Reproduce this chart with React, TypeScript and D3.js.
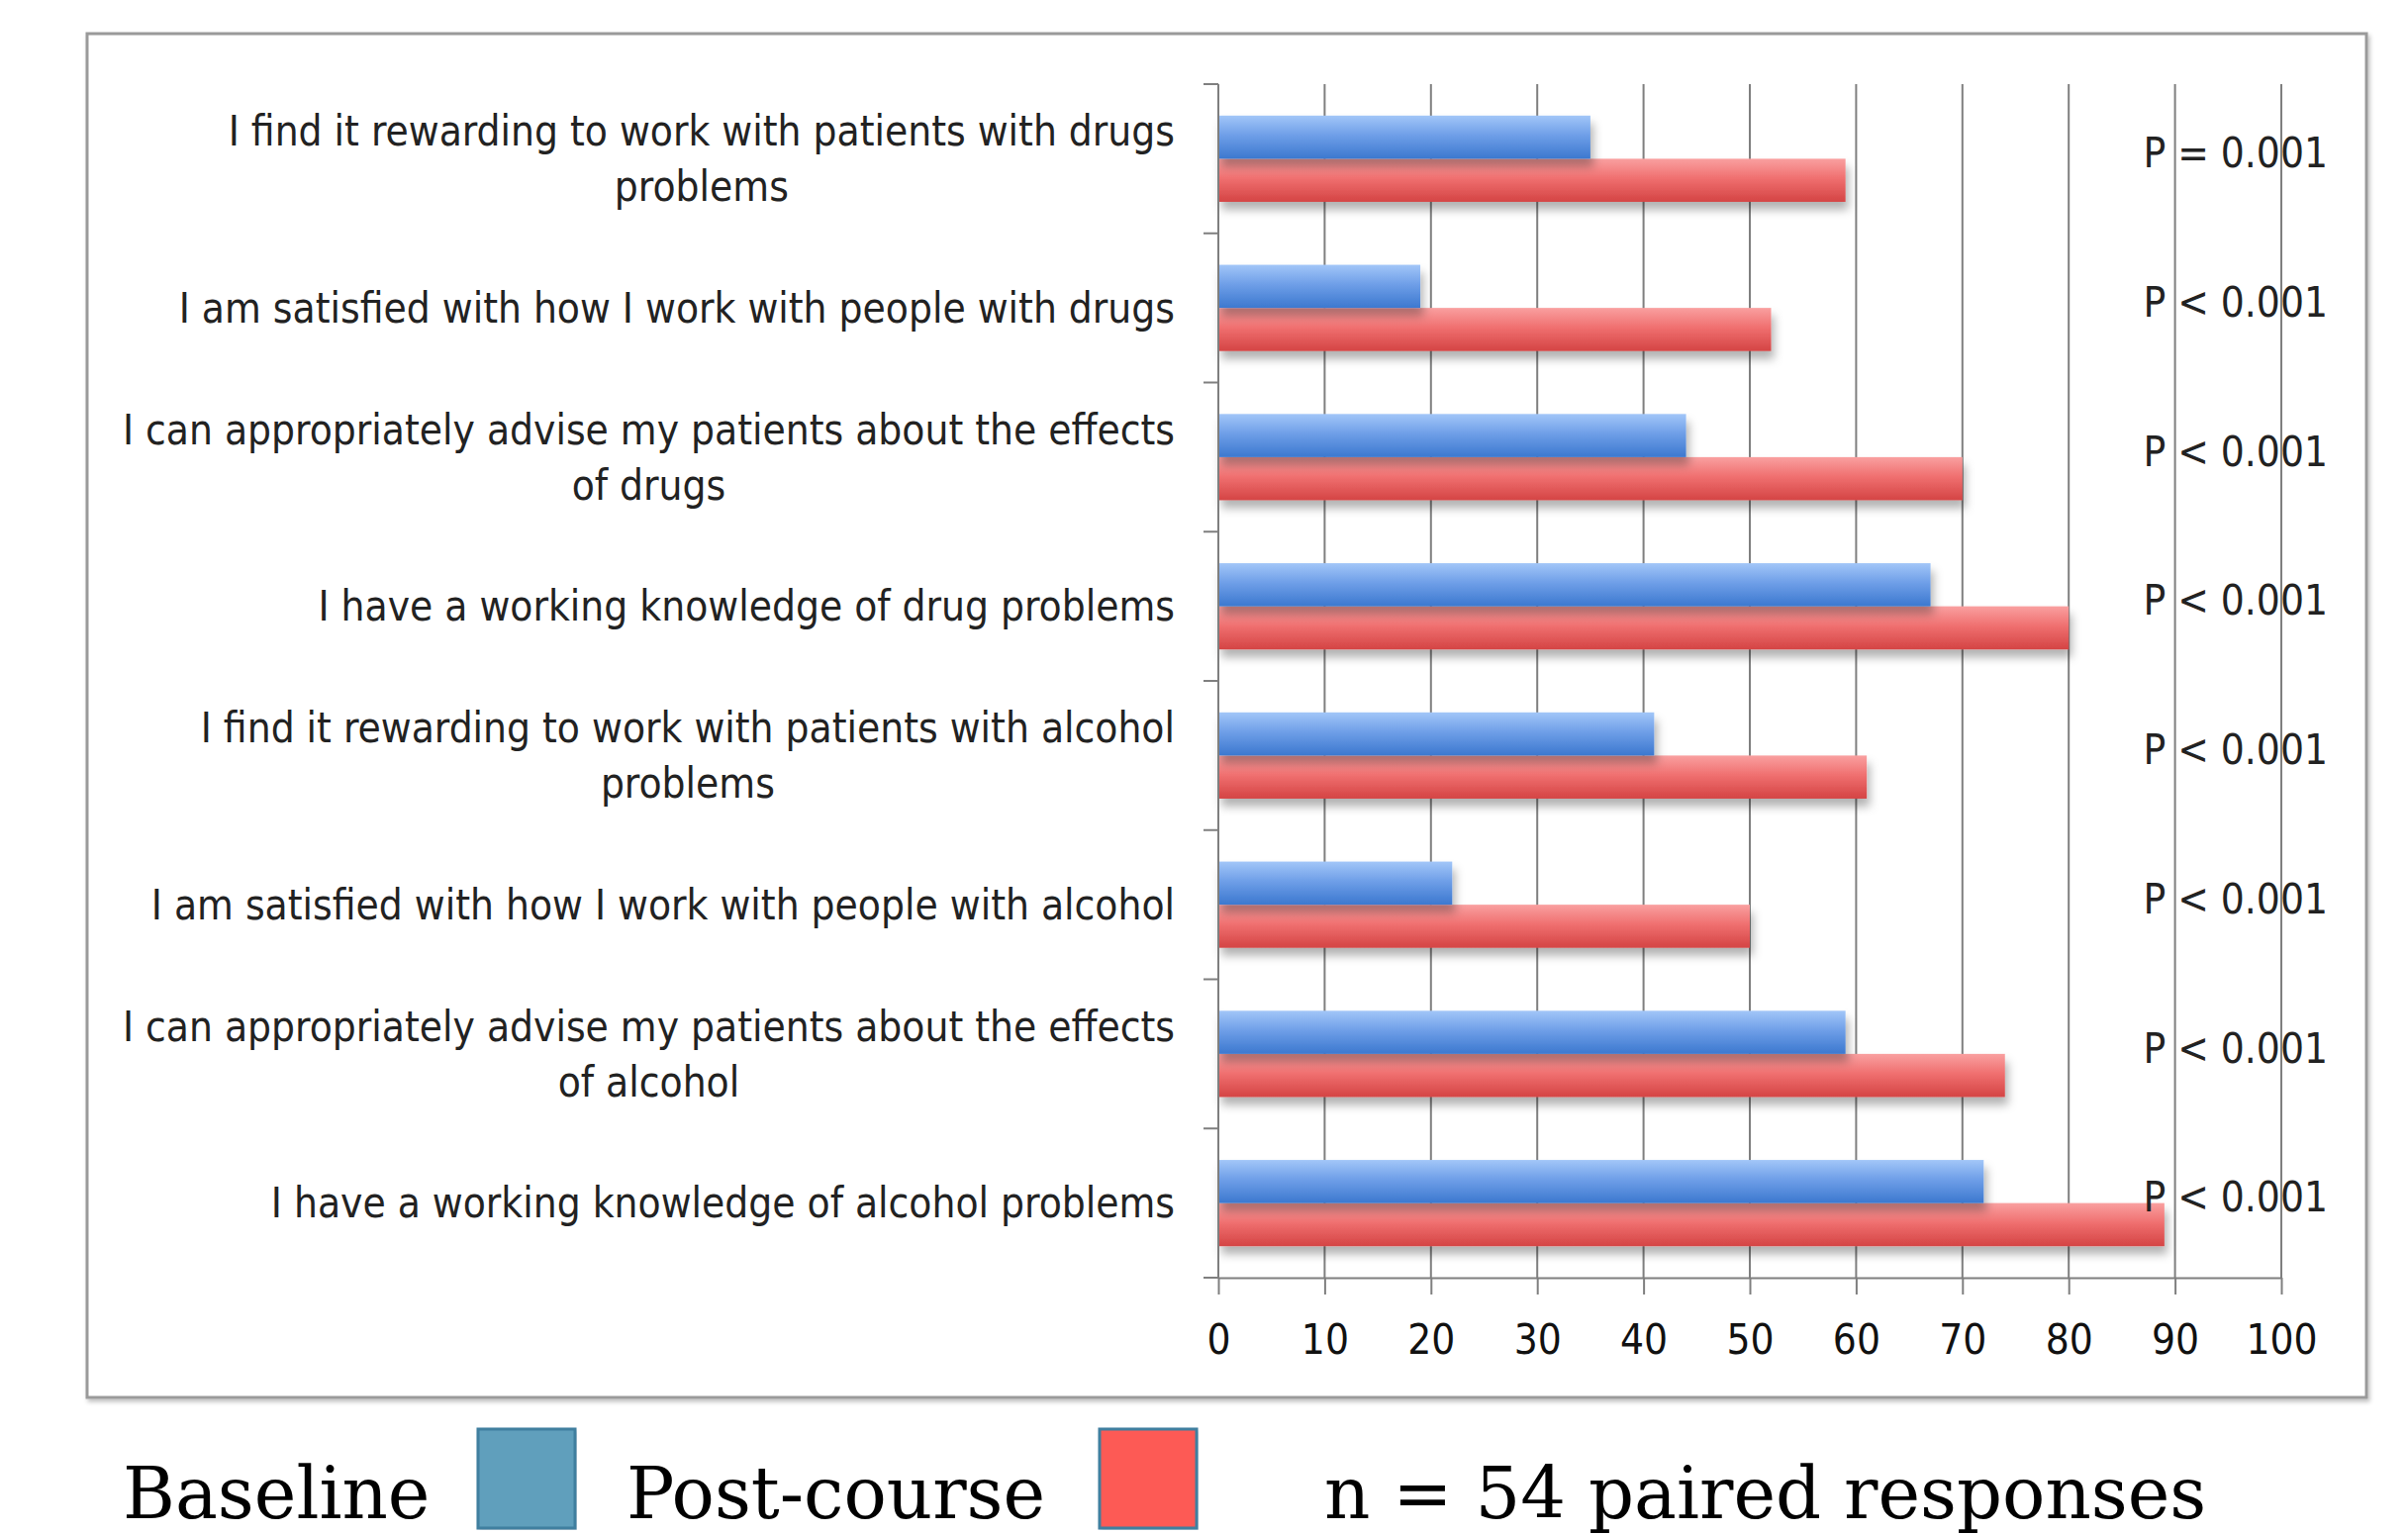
import React, { useEffect, useRef } from 'react';
import * as d3 from 'd3';

// category labels, top to bottom, already split into the lines used on the chart
const categories: string[][] = [
  ['I find it rewarding to work with patients with drugs', 'problems'],
  ['I am satisfied with how I work with people with drugs'],
  ['I can appropriately advise my patients about the effects', 'of drugs'],
  ['I have a working knowledge of drug problems'],
  ['I find it rewarding to work with patients with alcohol', 'problems'],
  ['I am satisfied with how I work with people with alcohol'],
  ['I can appropriately advise my patients about the effects', 'of alcohol'],
  ['I have a working knowledge of alcohol problems'],
];

const baseline = [35, 19, 44, 67, 41, 22, 59, 72];
const postCourse = [59, 52, 70, 80, 61, 50, 74, 89];
const pValues = ['P = 0.001', 'P < 0.001', 'P < 0.001', 'P < 0.001', 'P < 0.001', 'P < 0.001', 'P < 0.001', 'P < 0.001'];
const xTicks = [0, 10, 20, 30, 40, 50, 60, 70, 80, 90, 100];

const W = 2433;
const H = 1550;
const labelFont = '"Liberation Sans Narrow", "DejaVu Sans Condensed", Roboto, sans-serif';
const legendFont = '"DejaVu Serif", "Liberation Serif", serif';

const App = () => {
  const svgRef = useRef<SVGSVGElement>(null);

  useEffect(() => {
    const svg = d3.select(svgRef.current);
    svg.selectAll('*').remove();

    const plot = { left: 1231, right: 2305, top: 85, bottom: 1291 };

    const defs = svg.append('defs');
    const blueGrad = defs.append('linearGradient').attr('id', 'gBlue').attr('x1', 0).attr('y1', 0).attr('x2', 0).attr('y2', 1);
    blueGrad.append('stop').attr('offset', '0%').attr('stop-color', '#a2c6f8');
    blueGrad.append('stop').attr('offset', '45%').attr('stop-color', '#6f9fe8');
    blueGrad.append('stop').attr('offset', '100%').attr('stop-color', '#3c78cf');
    const redGrad = defs.append('linearGradient').attr('id', 'gRed').attr('x1', 0).attr('y1', 0).attr('x2', 0).attr('y2', 1);
    redGrad.append('stop').attr('offset', '0%').attr('stop-color', '#f9a0a0');
    redGrad.append('stop').attr('offset', '45%').attr('stop-color', '#f07070');
    redGrad.append('stop').attr('offset', '100%').attr('stop-color', '#d44444');
    const shadow = defs.append('filter').attr('id', 'shadow').attr('x', '-5%').attr('y', '-20%').attr('width', '115%').attr('height', '160%');
    shadow.append('feDropShadow').attr('dx', 3).attr('dy', 8).attr('stdDeviation', 5).attr('flood-color', '#000').attr('flood-opacity', 0.3);
    const frameShadow = defs.append('filter').attr('id', 'fshadow').attr('x', '-2%').attr('y', '-2%').attr('width', '104%').attr('height', '104%');
    frameShadow.append('feDropShadow').attr('dx', 2).attr('dy', 3).attr('stdDeviation', 2).attr('flood-color', '#000').attr('flood-opacity', 0.25);

    svg.append('rect').attr('width', W).attr('height', H).attr('fill', '#fff');

    // outer frame
    svg.append('rect')
      .attr('x', 88).attr('y', 34).attr('width', 2303).attr('height', 1378)
      .attr('fill', '#fff').attr('stroke', '#9a9a9a').attr('stroke-width', 3)
      .attr('filter', 'url(#fshadow)');

    const x = d3.scaleLinear().domain([0, 100]).range([plot.left, plot.right]);
    const y = d3.scaleBand<number>()
      .domain(d3.range(categories.length))
      .range([plot.top, plot.bottom]);
    const inner = d3.scaleBand<string>()
      .domain(['base', 'post'])
      .range([0, y.bandwidth()])
      .paddingOuter(0.73);

    // vertical gridlines
    svg.append('g')
      .selectAll('line')
      .data(xTicks.slice(1))
      .join('line')
      .attr('x1', (d) => x(d)).attr('x2', (d) => x(d))
      .attr('y1', plot.top).attr('y2', plot.bottom)
      .attr('stroke', '#7f7f7f').attr('stroke-width', 2);

    // bars
    const groups = svg.append('g')
      .selectAll('g')
      .data(categories.map((c, i) => ({ i, base: baseline[i], post: postCourse[i] })))
      .join('g')
      .attr('transform', (d) => `translate(0,${y(d.i)})`);

    groups.append('rect')
      .attr('x', x(0))
      .attr('y', inner('post')!)
      .attr('width', (d) => x(d.post) - x(0))
      .attr('height', inner.bandwidth())
      .attr('fill', 'url(#gRed)')
      .attr('filter', 'url(#shadow)');

    groups.append('rect')
      .attr('x', x(0))
      .attr('y', inner('base')!)
      .attr('width', (d) => x(d.base) - x(0))
      .attr('height', inner.bandwidth())
      .attr('fill', 'url(#gBlue)')
      .attr('filter', 'url(#shadow)');

    // y axis line + category boundary ticks
    svg.append('line')
      .attr('x1', x(0)).attr('x2', x(0))
      .attr('y1', plot.top).attr('y2', plot.bottom)
      .attr('stroke', '#7f7f7f').attr('stroke-width', 2);
    svg.append('g')
      .selectAll('line')
      .data(d3.range(categories.length + 1))
      .join('line')
      .attr('x1', x(0) - 15).attr('x2', x(0))
      .attr('y1', (d) => plot.top + d * y.step())
      .attr('y2', (d) => plot.top + d * y.step())
      .attr('stroke', '#7f7f7f').attr('stroke-width', 2);

    // x axis
    const xAxis = svg.append('g')
      .attr('transform', `translate(0,${plot.bottom})`)
      .call(d3.axisBottom(x).tickValues(xTicks).tickSize(17).tickPadding(30).tickSizeOuter(0));
    xAxis.select('.domain').attr('stroke', '#7f7f7f').attr('stroke-width', 2);
    xAxis.selectAll('line').attr('stroke', '#7f7f7f').attr('stroke-width', 2);
    xAxis.selectAll('text')
      .attr('fill', '#111')
      .style('font-family', labelFont)
      .style('font-size', '42px');

    // category labels: right aligned block, lines centred on the first line
    const labels = svg.append('g').style('font-family', labelFont).style('font-size', '42px').attr('fill', '#222');
    const labelRight = 1187;
    categories.forEach((lines, i) => {
      const cy = y(i)! + y.bandwidth() / 2;
      const lineH = 56;
      const t0 = labels.append('text')
        .attr('x', labelRight)
        .attr('y', cy - ((lines.length - 1) * lineH) / 2)
        .attr('dy', '0.35em')
        .attr('text-anchor', 'end')
        .text(lines[0]);
      const w = (t0.node() as SVGTextElement).getComputedTextLength();
      lines.slice(1).forEach((ln, j) => {
        labels.append('text')
          .attr('x', labelRight - w / 2)
          .attr('y', cy - ((lines.length - 1) * lineH) / 2 + (j + 1) * lineH)
          .attr('dy', '0.35em')
          .attr('text-anchor', 'middle')
          .text(ln);
      });
    });

    // p-values
    svg.append('g')
      .style('font-family', labelFont).style('font-size', '42px').attr('fill', '#222')
      .selectAll('text')
      .data(pValues)
      .join('text')
      .attr('x', x(87))
      .attr('y', (d, i) => y(i)! + y.bandwidth() / 2 - 6)
      .attr('dy', '0.35em')
      .text((d) => d);

    // legend
    const legend = svg.append('g').style('font-family', legendFont).style('font-size', '72px').attr('fill', '#000');
    legend.append('text').attr('x', 124).attr('y', 1534).text('Baseline');
    legend.append('rect').attr('x', 483).attr('y', 1444).attr('width', 98).attr('height', 100)
      .attr('fill', '#609fbc').attr('stroke', '#3f7f9f').attr('stroke-width', 3).attr('filter', 'url(#fshadow)');
    legend.append('text').attr('x', 633).attr('y', 1534).text('Post-course');
    legend.append('rect').attr('x', 1111).attr('y', 1444).attr('width', 98).attr('height', 100)
      .attr('fill', '#fd5a55').attr('stroke', '#3f7f9f').attr('stroke-width', 3).attr('filter', 'url(#fshadow)');
    legend.append('text').attr('x', 1338).attr('y', 1534).text('n = 54 paired responses');
  }, []);

  return (
    <svg
      ref={svgRef}
      width={W}
      height={H}
      style={{ position: 'absolute', left: 0, top: 0, display: 'block' }}
    />
  );
};

export default App;
